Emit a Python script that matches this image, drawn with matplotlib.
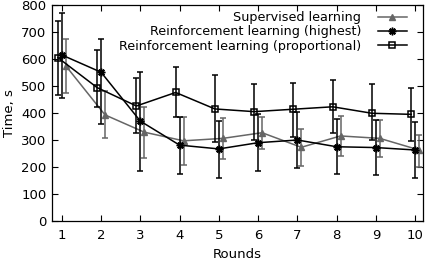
import numpy as np
import matplotlib
matplotlib.use('Agg')
from matplotlib import pyplot as plt

rounds = np.arange(1, 11)

sup_mean = [575, 393, 329, 297, 306, 327, 273, 315, 306, 263]
sup_lo = [475, 306, 232, 207, 228, 265, 204, 241, 238, 201]
sup_hi = [674, 480, 421, 387, 380, 384, 341, 389, 374, 318]

high_mean = [615, 551, 370, 281, 267, 290, 300, 275, 272, 263]
high_lo = [457, 359, 186, 173, 160, 185, 195, 173, 170, 161]
high_hi = [771, 673, 552, 387, 372, 395, 405, 378, 374, 365]

prop_mean = [605, 494, 426, 476, 415, 405, 414, 423, 399, 395]
prop_lo = [467, 423, 325, 387, 294, 300, 312, 327, 300, 297]
prop_hi = [741, 633, 529, 572, 541, 507, 512, 522, 506, 491]

labels = ['Supervised learning',
          'Reinforcement learning (highest)',
          'Reinforcement learning (proportional)']

plt.rcParams['font.family'] = 'DejaVu Sans'
plt.rcParams['font.size'] = 9.5

fig = plt.figure(figsize=(4.27, 2.6), dpi=100)
ax = fig.add_axes([52 / 427, 1 - 221 / 260, (423 - 52) / 427, (221 - 5) / 260])

series = [
    (sup_mean, sup_lo, sup_hi, 0.1, '#666666', dict(marker='^', ms=4.5, mfc='#666666')),
    (high_mean, high_lo, high_hi, 0.0, 'black', dict(marker=(8, 2, 0), ms=5.5, mew=1.1)),
    (prop_mean, prop_lo, prop_hi, -0.1, 'black', dict(marker='s', ms=4.5, mfc='none', mew=1.1)),
]

handles = []
for (m, lo, hi, dx, col, mk), lab in zip(series, labels):
    m = np.array(m)
    x = rounds + dx
    err = [m - np.array(lo), np.array(hi) - m]
    ax.errorbar(x, m, yerr=err, fmt='none', ecolor=col, elinewidth=1.1,
                capsize=2.2, capthick=1.1)
    ln, = ax.plot(x, m, color=col, lw=1.1, mec=col, label=lab, **mk)
    handles.append(ln)

ax.set_xlim(0.75, 10.2)
ax.set_ylim(0, 800)
ax.set_xticks(rounds)
ax.set_yticks(np.arange(0, 801, 100))
ax.tick_params(direction='in', top=True, right=True, length=4, width=0.8)
ax.tick_params(axis='x', pad=6)
ax.tick_params(axis='y', pad=4)
for s in ax.spines.values():
    s.set_linewidth(0.9)

ax.set_xlabel('Rounds', labelpad=4)
ax.set_ylabel('Time, s', labelpad=4)

ax.legend(handles=handles, loc='upper right', frameon=False, markerfirst=False,
          handlelength=2.3, handletextpad=1.3, labelspacing=0.1,
          borderaxespad=0, borderpad=0, fontsize=9.2,
          bbox_to_anchor=(1 - 16 / 371, 1 - 6 / 216))

fig.savefig('out.png', dpi=100)
